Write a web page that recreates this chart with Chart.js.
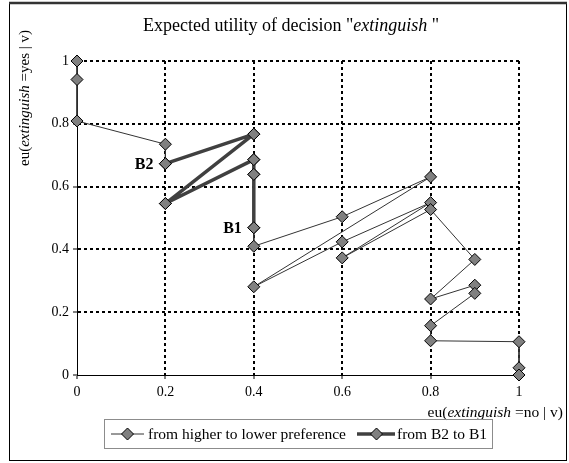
<!DOCTYPE html>
<html>
<head>
<meta charset="utf-8">
<script src="https://cdn.jsdelivr.net/npm/chart.js@4.4.0/dist/chart.umd.min.js"></script>
<style>
  html, body { margin: 0; padding: 0; background: #fff; }
  #wrap { position: relative; width: 569px; height: 463px; }
</style>
</head>
<body>
<div id="wrap"><canvas id="grafico" width="569" height="463"></canvas></div>
<script>
// ticks on both axes
const tickValues = [0, 0.2, 0.4, 0.6, 0.8, 1];
const tickLabels = ['0', '0.2', '0.4', '0.6', '0.8', '1'];

// thin path: eu(extinguish=no | v) and eu(extinguish=yes | v)
const euNo  = [0, 0, 0, 0.2, 0.2, 0.4, 0.2, 0.4, 0.4, 0.4, 0.4, 0.6, 0.8, 0.4, 0.6, 0.8, 0.6, 0.8, 0.9, 0.8, 0.9, 0.9, 0.8, 0.8, 1, 1, 1];
const euYes = [1.0, 0.941, 0.809, 0.735, 0.673, 0.767, 0.546, 0.686, 0.639, 0.469, 0.410, 0.504, 0.631, 0.281, 0.424, 0.549, 0.373, 0.527, 0.368, 0.242, 0.286, 0.260, 0.157, 0.109, 0.106, 0.023, 0];

// thick path from B2 to B1
const b2b1No  = [0.2, 0.4, 0.2, 0.4, 0.4, 0.4];
const b2b1Yes = [0.673, 0.767, 0.546, 0.686, 0.639, 0.469];

const seriesNames = ['from higher to lower preference', 'from B2 to B1'];
const pointNames = ['B2', 'B1'];

const serif = "'Liberation Serif', 'Times New Roman', serif";

function toPoints(xs, ys) {
    return xs.map((x, i) => ({ x: x, y: ys[i] }));
}

// draws a string made of [text, italic] pieces
function mixedText(ctx, parts, size, x, y, align) {
    let total = 0;
    parts.forEach(p => {
        ctx.font = (p[1] ? 'italic ' : '') + size + 'px ' + serif;
        total += ctx.measureText(p[0]).width;
    });
    let cx = align === 'right' ? x - total : (align === 'center' ? x - total / 2 : x);
    ctx.textAlign = 'left';
    parts.forEach(p => {
        ctx.font = (p[1] ? 'italic ' : '') + size + 'px ' + serif;
        ctx.fillText(p[0], cx, y);
        cx += ctx.measureText(p[0]).width;
    });
}

function diamond(ctx, x, y, r) {
    ctx.beginPath();
    ctx.moveTo(x, y - r);
    ctx.lineTo(x + r, y);
    ctx.lineTo(x, y + r);
    ctx.lineTo(x - r, y);
    ctx.closePath();
    ctx.fillStyle = '#808080';
    ctx.fill();
    ctx.lineWidth = 1;
    ctx.strokeStyle = '#000';
    ctx.stroke();
}

const decoracao = {
    id: 'decoracao',
    afterDraw(chart) {
        const ctx = chart.ctx;
        const xs = chart.scales.x, ys = chart.scales.y;
        ctx.save();
        ctx.fillStyle = '#000';
        ctx.textBaseline = 'alphabetic';

        // title
        mixedText(ctx, [['Expected utility of decision "', false], ['extinguish', true], [' "', false]], 18, 291, 31, 'center');

        // x axis title
        mixedText(ctx, [['eu(', false], ['extinguish', true], [' =no | v)', false]], 15.5, 563, 417, 'right');

        // y axis title
        ctx.save();
        ctx.translate(29, 98);
        ctx.rotate(-Math.PI / 2);
        mixedText(ctx, [['eu(', false], ['extinguish', true], [' =yes | v)', false]], 15, 0, 0, 'center');
        ctx.restore();

        // B2 / B1 labels next to the ends of the thick path
        ctx.font = 'bold 16px ' + serif;
        ctx.textAlign = 'right';
        ctx.textBaseline = 'middle';
        const last = b2b1No.length - 1;
        ctx.fillText(pointNames[0], xs.getPixelForValue(b2b1No[0]) - 12, ys.getPixelForValue(b2b1Yes[0]) + 1);
        ctx.fillText(pointNames[1], xs.getPixelForValue(b2b1No[last]) - 12, ys.getPixelForValue(b2b1Yes[last]) + 1);

        // legend
        ctx.lineWidth = 1;
        ctx.strokeStyle = '#8c8c8c';
        ctx.strokeRect(104.5, 419.5, 388, 29);
        const ly = 434;
        ctx.strokeStyle = '#333';
        ctx.beginPath(); ctx.moveTo(111, ly); ctx.lineTo(144, ly); ctx.stroke();
        diamond(ctx, 127.5, ly, 6);
        ctx.lineWidth = 3.5;
        ctx.strokeStyle = '#404040';
        ctx.beginPath(); ctx.moveTo(357, ly); ctx.lineTo(395, ly); ctx.stroke();
        diamond(ctx, 376.5, ly, 6);
        ctx.font = '15.5px ' + serif;
        ctx.textAlign = 'left';
        ctx.textBaseline = 'middle';
        ctx.fillStyle = '#000';
        ctx.fillText(seriesNames[0], 148, ly + 1);
        ctx.fillText(seriesNames[1], 397, ly + 1);

        // outer frame
        ctx.strokeStyle = '#000';
        ctx.lineWidth = 1;
        ctx.strokeRect(9.5, 3.5, 557, 457);
        ctx.strokeStyle = '#333';
        ctx.lineWidth = 2.5;
        ctx.beginPath(); ctx.moveTo(9, 3); ctx.lineTo(567, 3); ctx.stroke();
        ctx.restore();
    }
};

function eixo(pos) {
    return {
        type: 'linear',
        position: pos,
        min: 0,
        max: 1,
        afterBuildTicks: scale => { scale.ticks = tickValues.map(v => ({ value: v })); },
        afterFit: scale => {
            if (pos === 'left') scale.width = 77;
            else scale.height = 88;
        },
        ticks: {
            callback: (v, i) => tickLabels[i],
            font: { family: serif, size: 14 },
            color: '#000',
            padding: pos === 'left' ? 4 : 5
        },
        grid: {
            color: '#000',
            lineWidth: c => (c.tick && c.tick.value === 0) ? 0 : 2,
            tickLength: 4,
            tickColor: '#000',
            tickWidth: 1,
            tickBorderDash: []
        },
        border: { display: true, color: '#000', width: 1, dash: [3, 3] }
    };
}

new Chart(document.getElementById('grafico'), {
    type: 'scatter',
    data: {
        datasets: [
            {
                label: seriesNames[0],
                data: toPoints(euNo, euYes),
                showLine: true,
                borderColor: '#333',
                borderWidth: 1,
                pointStyle: 'rectRot',
                pointRadius: 6,
                pointBackgroundColor: '#808080',
                pointBorderColor: '#000',
                pointBorderWidth: 1,
                clip: false,
                order: 1
            },
            {
                label: seriesNames[1],
                data: toPoints(b2b1No, b2b1Yes),
                showLine: true,
                borderColor: '#404040',
                borderWidth: 3.5,
                borderJoinStyle: 'round',
                borderCapStyle: 'round',
                pointStyle: 'rectRot',
                pointRadius: 6,
                pointBackgroundColor: '#808080',
                pointBorderColor: '#000',
                pointBorderWidth: 1,
                clip: false,
                order: 0
            }
        ]
    },
    options: {
        responsive: false,
        devicePixelRatio: 1,
        animation: false,
        layout: { padding: { top: 61, right: 50, left: 0, bottom: 0 } },
        plugins: {
            legend: { display: false },
            title: { display: false },
            tooltip: { enabled: false }
        },
        scales: {
            x: eixo('bottom'),
            y: eixo('left')
        }
    },
    plugins: [decoracao]
});
</script>
</body>
</html>
